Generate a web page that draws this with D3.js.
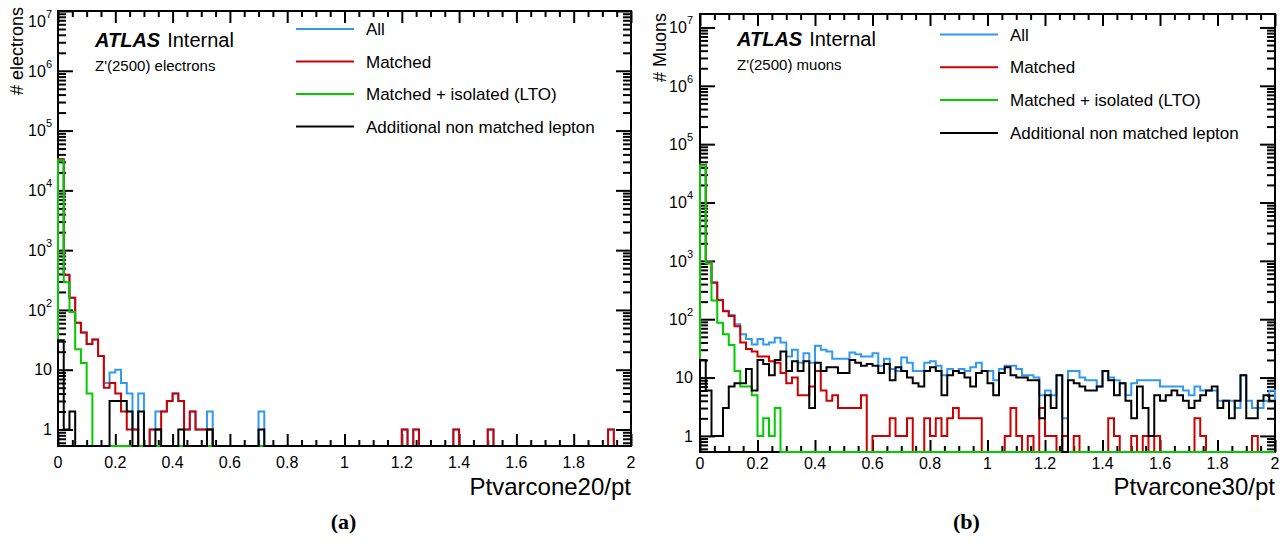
<!DOCTYPE html>
<html>
<head>
<meta charset="utf-8">
<script src="https://cdn.jsdelivr.net/npm/d3@7"></script>
<style>
  body { margin: 0; background: #fff; }
  text { font-family: "Liberation Sans", Arial, Helvetica, sans-serif; }
  text.caption { font-family: "Liberation Serif", "DejaVu Serif", serif; }
</style>
</head>
<body>
<svg id="chart" width="1287" height="544"></svg>
<script>
// binning: 100 bins of 0.02 between 0 and 2
const nBins = 100, xLo = 0, xHi = 2;

const seriesNames = ["All", "Matched", "Matched + isolated (LTO)", "Additional non matched lepton"];
const seriesColors = ["#3399ee", "#cc0000", "#00cc00", "#000000"];

const xTickValues = [0, 0.2, 0.4, 0.6, 0.8, 1, 1.2, 1.4, 1.6, 1.8, 2];
const xTickLabels = ["0", "0.2", "0.4", "0.6", "0.8", "1", "1.2", "1.4", "1.6", "1.8", "2"];
const yDecades = [1, 10, 1e2, 1e3, 1e4, 1e5, 1e6, 1e7];

// (a) electrons, Ptvarcone20/pt
const elAll = [
  33500, 390, 160, 61, 42, 27, 32, 17, 6, 9,
  10, 6, 4, 1, 4, 0, 1, 2, 2, 3,
  4, 3, 1, 2, 1, 1, 2, 0, 0, 0,
  0, 0, 0, 0, 0, 2, 0, 0, 0, 0,
  0, 0, 0, 0, 0, 0, 0, 0, 0, 0,
  0, 0, 0, 0, 0, 0, 0, 0, 0, 0,
  1, 0, 1, 0, 0, 0, 0, 0, 0, 1,
  0, 0, 0, 0, 0, 1, 0, 0, 0, 0,
  0, 0, 0, 0, 0, 0, 0, 0, 0, 0,
  0, 0, 0, 0, 0, 0, 1, 0, 0, 0
];
const elMatched = [
  33000, 385, 160, 61, 42, 27, 32, 17, 5, 6,
  4, 2, 1, 1, 0, 0, 1, 1, 2, 3,
  4, 3, 1, 2, 1, 1, 1, 0, 0, 0,
  0, 0, 0, 0, 0, 0, 0, 0, 0, 0,
  0, 0, 0, 0, 0, 0, 0, 0, 0, 0,
  0, 0, 0, 0, 0, 0, 0, 0, 0, 0,
  1, 0, 1, 0, 0, 0, 0, 0, 0, 1,
  0, 0, 0, 0, 0, 1, 0, 0, 0, 0,
  0, 0, 0, 0, 0, 0, 0, 0, 0, 0,
  0, 0, 0, 0, 0, 0, 1, 0, 0, 0
];
const elIsolated = [
  32000, 290, 92, 22, 13, 4, 0, 0, 0, 0,
  0, 0, 0, 0, 0, 0, 0, 0, 0, 0,
  0, 0, 0, 0, 0, 0, 0, 0, 0, 0,
  0, 0, 0, 0, 0, 0, 0, 0, 0, 0,
  0, 0, 0, 0, 0, 0, 0, 0, 0, 0,
  0, 0, 0, 0, 0, 0, 0, 0, 0, 0,
  0, 0, 0, 0, 0, 0, 0, 0, 0, 0,
  0, 0, 0, 0, 0, 0, 0, 0, 0, 0,
  0, 0, 0, 0, 0, 0, 0, 0, 0, 0,
  0, 0, 0, 0, 0, 0, 0, 0, 0, 0
];
const elExtra = [
  31, 1, 2, 0, 0, 0, 0, 0, 0, 3,
  3, 3, 2, 0, 2, 0, 0, 1, 0, 0,
  0, 1, 0, 0, 0, 0, 1, 0, 0, 0,
  0, 0, 0, 0, 0, 1, 0, 0, 0, 0,
  0, 0, 0, 0, 0, 0, 0, 0, 0, 0,
  0, 0, 0, 0, 0, 0, 0, 0, 0, 0,
  0, 0, 0, 0, 0, 0, 0, 0, 0, 0,
  0, 0, 0, 0, 0, 0, 0, 0, 0, 0,
  0, 0, 0, 0, 0, 0, 0, 0, 0, 0,
  0, 0, 0, 0, 0, 0, 0, 0, 0, 0
];

// (b) muons, Ptvarcone30/pt
const muAll = [
  45000, 980, 430, 215, 140, 118, 82, 55, 46, 37,
  46, 37, 40, 48, 40, 23, 30, 18, 26, 18,
  35, 30, 28, 21, 21, 21, 27, 25, 23, 23,
  26, 16, 21, 14, 13, 22, 18, 13, 13, 18,
  19, 16, 11, 14, 13, 14, 13, 15, 18, 13,
  13, 9, 14, 16, 16, 14, 11, 11, 10, 5,
  6, 5, 11, 2, 13, 13, 10, 9, 9, 7,
  13, 10, 9, 8, 5, 8, 9, 9, 9, 9,
  7, 7, 7, 7, 6, 5, 7, 6, 6, 6,
  4, 4, 4, 3, 11, 4, 3, 3, 4, 6
];
const muMatched = [
  44000, 950, 420, 212, 137, 113, 76, 40, 31, 28,
  23, 23, 19, 18, 12, 8, 10, 5, 5, 7,
  13, 6, 4, 5, 3, 3, 3, 3, 5, 0,
  1, 1, 1, 2, 1, 1, 2, 0, 0, 2,
  1, 2, 1, 2, 3, 2, 2, 2, 2, 0,
  0, 0, 0, 1, 3, 1, 0, 1, 0, 3,
  1, 1, 0, 1, 0, 1, 0, 0, 0, 0,
  0, 2, 1, 0, 0, 1, 0, 1, 0, 1,
  0, 0, 0, 0, 0, 0, 2, 1, 0, 0,
  0, 0, 0, 0, 0, 0, 1, 0, 0, 0
];
const muIsolated = [
  43000, 900, 210, 87, 55, 36, 13, 7, 7, 5,
  1, 2, 1, 3, 0, 0, 0, 0, 0, 0,
  0, 0, 0, 0, 0, 0, 0, 0, 0, 0,
  0, 0, 0, 0, 0, 0, 0, 0, 0, 0,
  0, 0, 0, 0, 0, 0, 0, 0, 0, 0,
  0, 0, 0, 0, 0, 0, 0, 0, 0, 0,
  0, 0, 0, 0, 0, 0, 0, 0, 0, 0,
  0, 0, 0, 0, 0, 0, 0, 0, 0, 0,
  0, 0, 0, 0, 0, 0, 0, 0, 0, 0,
  0, 0, 0, 0, 0, 0, 0, 0, 0, 0
];
const muExtra = [
  20, 6, 1, 1, 3, 7, 8, 8, 14, 6,
  20, 17, 11, 20, 28, 13, 19, 13, 19, 3,
  18, 13, 15, 15, 12, 12, 20, 18, 16, 17,
  16, 12, 17, 9, 15, 13, 10, 8, 7, 13,
  15, 13, 5, 11, 13, 12, 10, 7, 12, 13,
  8, 5, 12, 15, 11, 10, 10, 9, 9, 2,
  5, 3, 11, 0, 9, 8, 7, 6, 6, 7,
  13, 9, 5, 8, 4, 2, 7, 3, 1, 5,
  4, 5, 6, 5, 4, 3, 4, 5, 6, 7,
  3, 4, 2, 4, 11, 2, 2, 4, 5, 4
];

const svg = d3.select("#chart");

function drawPanel(p) {
  const x = d3.scaleLinear().domain([xLo, xHi]).range([p.left, p.right]);
  const y = d3.scaleLog().domain(p.yDomain).range([p.bottom, p.top]).clamp(true);
  const g = svg.append("g");

  // frame
  g.append("rect")
    .attr("x", p.left).attr("y", p.top)
    .attr("width", p.right - p.left).attr("height", p.bottom - p.top)
    .attr("fill", "none").attr("stroke", "#000").attr("stroke-width", 2);

  // ticks (all inside the frame, ROOT style)
  const xMinor = d3.range(0, 41).map(i => i * 0.05).filter(v => Math.abs(v * 5 - Math.round(v * 5)) > 1e-6);
  const yMinor = [];
  [0.1, 1, 10, 1e2, 1e3, 1e4, 1e5, 1e6, 1e7].forEach(d => {
    for (let m = 2; m <= 9; m++) {
      const v = m * d;
      if (v >= p.yDomain[0] && v <= p.yDomain[1]) yMinor.push(v);
    }
  });

  const tickAxis = (axis, vals, size, tr) => {
    const a = g.append("g").attr("transform", tr)
      .call(axis.tickValues(vals).tickSize(-size).tickFormat(""));
    a.select(".domain").remove();
    a.selectAll(".tick line").attr("stroke", "#000").attr("stroke-width", 2);
  };
  tickAxis(d3.axisBottom(x), xTickValues, 12, `translate(0,${p.bottom})`);
  tickAxis(d3.axisBottom(x), xMinor, 6, `translate(0,${p.bottom})`);
  tickAxis(d3.axisTop(x), xTickValues, 12, `translate(0,${p.top})`);
  tickAxis(d3.axisTop(x), xMinor, 6, `translate(0,${p.top})`);
  const yMajor = yDecades.filter(v => v >= p.yDomain[0] && v <= p.yDomain[1] * 1.001);
  tickAxis(d3.axisLeft(y), yMajor, 15, `translate(${p.left},0)`);
  tickAxis(d3.axisLeft(y), yMinor, 8, `translate(${p.left},0)`);
  tickAxis(d3.axisRight(y), yMajor, 15, `translate(${p.right},0)`);
  tickAxis(d3.axisRight(y), yMinor, 8, `translate(${p.right},0)`);

  // x tick labels
  xTickValues.forEach((v, i) => {
    g.append("text")
      .attr("x", x(v)).attr("y", p.labelBase)
      .attr("text-anchor", "middle").attr("font-size", 16)
      .text(xTickLabels[i]);
  });

  // y tick labels: 1, 10, 10^2 ...
  yMajor.forEach(v => {
    const ty = Math.max(y(v), p.top + 10);
    const t = g.append("text")
      .attr("x", p.left - p.yLabelGap).attr("y", ty).attr("dy", "0.36em")
      .attr("text-anchor", "end").attr("font-size", 16);
    const e = Math.round(Math.log10(v));
    if (e < 2) {
      t.text(String(v));
    } else {
      t.append("tspan").text("10");
      t.append("tspan").attr("font-size", 11).attr("dy", -9).text(e);
    }
  });

  // histograms as step outlines
  const floor = p.yDomain[0];
  const step = d3.line()
    .x(d => x(d[0]))
    .y(d => y(d[1] > 0 ? d[1] : floor))
    .curve(d3.curveStepAfter);
  p.series.forEach((vals, si) => {
    const pts = [[xLo, floor]];
    vals.forEach((v, k) => pts.push([xLo + k * (xHi - xLo) / nBins, v]));
    pts.push([xHi, vals[nBins - 1]]);
    pts.push([xHi, floor]);
    g.append("path")
      .attr("d", step(pts))
      .attr("fill", "none")
      .attr("stroke", seriesColors[si])
      .attr("stroke-width", 2);
  });

  // axis titles
  g.append("text")
    .attr("x", p.right).attr("y", p.titleBase)
    .attr("text-anchor", "end").attr("font-size", 24)
    .text(p.xTitle);
  g.append("text")
    .attr("transform", `translate(${p.yTitleX},${p.yTitleTop}) rotate(-90)`)
    .attr("text-anchor", "end").attr("font-size", 18)
    .text(p.yTitle);

  // ATLAS label
  const atl = g.append("text").attr("x", p.atlasX).attr("y", p.atlasY).attr("font-size", 20);
  atl.append("tspan").attr("font-weight", "bold").attr("font-style", "italic").text("ATLAS");
  atl.append("tspan").attr("dx", 7).text("Internal");
  g.append("text")
    .attr("x", p.atlasX).attr("y", p.atlasY + 24)
    .attr("font-size", 15)
    .text(p.sample);

  // legend
  seriesNames.forEach((name, i) => {
    const ly = p.legendY + i * p.legendDy;
    g.append("line")
      .attr("x1", p.legendX).attr("x2", p.legendX + 58)
      .attr("y1", ly).attr("y2", ly)
      .attr("stroke", seriesColors[i]).attr("stroke-width", 2);
    g.append("text")
      .attr("x", p.legendX + 70).attr("y", ly).attr("dy", "0.36em")
      .attr("font-size", 17)
      .text(name);
  });

  // caption
  svg.append("text")
    .attr("class", "caption")
    .attr("x", (p.left + p.right) / 2 + p.captionShift).attr("y", 529)
    .attr("text-anchor", "middle")
    .attr("font-weight", "bold").attr("font-size", 22)
    .text(p.caption);
}

drawPanel({
  left: 58, right: 631, top: 11, bottom: 446,
  yDomain: [0.53, 1e7],
  series: [elAll, elMatched, elIsolated, elExtra],
  labelBase: 468, yLabelGap: 6, titleBase: 495,
  xTitle: "Ptvarcone20/pt", yTitle: "# electrons", yTitleX: 23, yTitleTop: 7,
  atlasX: 95, atlasY: 47, sample: "Z'(2500) electrons",
  legendX: 296, legendY: 29, legendDy: 32.5,
  caption: "(a)", captionShift: -1
});

drawPanel({
  left: 700, right: 1275, top: 14, bottom: 452,
  yDomain: [0.53, 1.7e7],
  series: [muAll, muMatched, muIsolated, muExtra],
  labelBase: 469, yLabelGap: 7, titleBase: 495,
  xTitle: "Ptvarcone30/pt", yTitle: "# Muons", yTitleX: 666, yTitleTop: 13,
  atlasX: 737, atlasY: 46, sample: "Z'(2500) muons",
  legendX: 940, legendY: 34.5, legendDy: 32.8,
  caption: "(b)", captionShift: -21
});
</script>
</body>
</html>
